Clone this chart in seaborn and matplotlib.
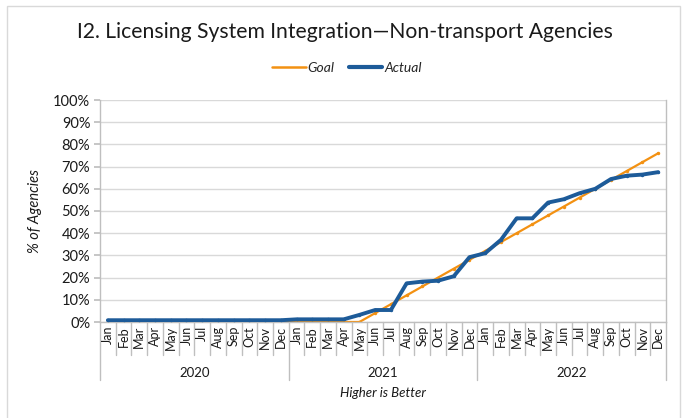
import matplotlib
matplotlib.use("Agg")
import matplotlib.pyplot as plt
import matplotlib.transforms as mtransforms
from matplotlib.patches import Rectangle
from matplotlib.lines import Line2D
from matplotlib.ticker import PercentFormatter
import seaborn as sns
import pandas as pd

years = ["2020", "2021", "2022"]
months = ["Jan", "Feb", "Mar", "Apr", "May", "Jun", "Jul", "Aug", "Sep", "Oct", "Nov", "Dec"]

goal = [0, 0, 0, 0, 0, 0, 0, 0, 0, 0, 0, 0,
        0, 0, 0, 0, 0, 4, 8, 12, 16, 20, 24, 28,
        32, 36, 40, 44, 48, 52, 56, 60, 64, 68, 72, 76]
actual = [0.8, 0.8, 0.8, 0.8, 0.8, 0.8, 0.8, 0.8, 0.8, 0.8, 0.8, 0.8,
          1.2, 1.2, 1.2, 1.2, 3.2, 5.4, 5.4, 17.4, 18.2, 18.6, 20.6, 29.2,
          31.0, 37.0, 46.7, 46.7, 53.8, 55.3, 58.0, 60.0, 64.4, 65.9, 66.4, 67.5]

title = "I2. Licensing System Integration\u2014Non-transport Agencies"
ylabel = "% of Agencies"
xlabel = "Higher is Better"

GOAL_C = "#F39112"
ACT_C = "#1D5B99"
GRID_C = "#D9D9D9"
AX_C = "#BFBFBF"
TXT_C = "#1a1a1a"

n = len(years) * len(months)
df = pd.DataFrame({
    "idx": list(range(n)) * 2,
    "value": goal + actual,
    "series": ["Goal"] * n + ["Actual"] * n,
})

sns.set_theme(style="white")
plt.rcParams["font.family"] = ["Lato", "DejaVu Sans"]

fig = plt.figure(figsize=(6.86, 4.18), dpi=100)
W, H = 686, 418
ax = fig.add_axes([100 / W, 1 - 322 / H, (666 - 100) / W, (322 - 100) / H])

sns.lineplot(data=df, x="idx", y="value", hue="series",
             palette={"Goal": GOAL_C, "Actual": ACT_C},
             hue_order=["Goal", "Actual"], ax=ax, legend=False,
             marker="o", markersize=2.5, markeredgewidth=0)
for line, lw in zip(ax.lines, [1.6, 2.8]):
    line.set_linewidth(lw)
ax.lines[1].set_zorder(3)

ax.set_xlim(-0.5, n - 0.5)
ax.set_ylim(0, 100)
ax.set_yticks(range(0, 101, 10))
ax.yaxis.set_major_formatter(PercentFormatter(decimals=0))
ax.yaxis.grid(True, color=GRID_C, linewidth=1)
ax.set_axisbelow(True)
ax.spines["top"].set_visible(False)
for s in ["left", "right", "bottom"]:
    ax.spines[s].set_color(AX_C)
    ax.spines[s].set_linewidth(1)
ax.tick_params(axis="y", which="both", left=True, length=4, color=AX_C,
               labelsize=10.5, labelcolor=TXT_C, pad=3)
ax.set_xticks([])
ax.set_xlabel("")
ax.set_ylabel(ylabel, fontsize=10.5, fontstyle="italic", color=TXT_C, labelpad=8)

trans = mtransforms.blended_transform_factory(ax.transData, ax.transAxes)
ah = 322 - 100
for k in range(n + 1):
    ybot = -58 / ah if k % 12 == 0 else -33 / ah
    ax.plot([k - 0.5, k - 0.5], [0, ybot], transform=trans, color=AX_C,
            linewidth=1, clip_on=False)
for i in range(n):
    ax.text(i, -4 / ah, months[i % 12], transform=trans, rotation=90,
            ha="center", va="top", fontsize=9, color=TXT_C)
for j, yr in enumerate(years):
    ax.text(j * 12 + 5.5, -51 / ah, yr, transform=trans, ha="center",
            va="center", fontsize=9.5, color=TXT_C)
ax.text(0.5, -71 / ah, xlabel, transform=ax.transAxes, ha="center",
        va="center", fontsize=9.5, fontstyle="italic", color=TXT_C)

fig.text(345 / W, 1 - 32 / H, title, ha="center", va="center",
         fontsize=15.2, color=TXT_C)

handles = [Line2D([], [], color=GOAL_C, lw=1.8), Line2D([], [], color=ACT_C, lw=3)]
fig.legend(handles, ["Goal", "Actual"], loc="center", ncol=2,
           bbox_to_anchor=(347 / W, 1 - 68 / H), frameon=False,
           prop={"style": "italic", "size": 10}, handlelength=2.4,
           handletextpad=0.15, columnspacing=1.0)

fig.patches.append(Rectangle((7 / W, -0.02), (680 - 7) / W, 1.02 - 6 / H,
                             transform=fig.transFigure, fill=False,
                             edgecolor=GRID_C, linewidth=1))

fig.savefig("out.png", dpi=100)
